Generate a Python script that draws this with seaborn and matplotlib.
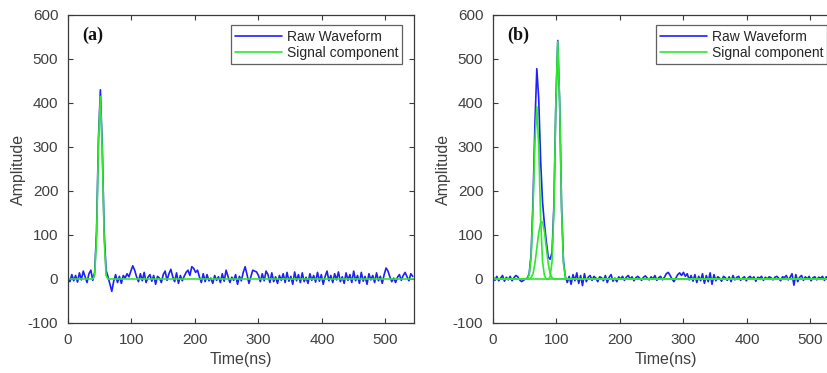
import numpy as np
import pandas as pd
import matplotlib
matplotlib.use("Agg")
import matplotlib.pyplot as plt
import seaborn as sns

# ---------------- data ----------------
TIME_STEP_NS = 3  # sampling interval of the waveforms (ns)

# Panel (a): raw waveform, sampled every 3 ns starting at t = 0
raw_a = [3, -6, 10, -4, 8, -7, 14, -2, 18, 5, -8, 12, 20, -3,
         15, 110, 320, 430, 300, 105, 20,
         5, -12, -28, -5, 10, -8, 6, -10, 8, 2, 12, 5, 18, 30, 20, 5, -6, 12, -4,
         15, -8, 4, 10, -5, 8, -12, 6, 2, -8, 10, 18, -3, 12, 22, 5, -6, 14, -10,
         8, -4, 6, 15, 20, 8, 28, 24, 15, 20, 5, -8, 12, -6, 10, -4, 2, -10, 8,
         -3, 5, -8, 12, -5, 20, 6, -8, 4, -3, 10, -12, 6, -4, 15, 28, 10, -10, 5,
         20, 18, 16, 8, -6, 12, -4, 18, 10, -8, 14, -6, 5, -10, 8, -3, 12, -8, 15,
         -5, 6, -12, 16, -4, 10, -8, 14, -6, 4, -10, 12, -3, 8, -7, 15, -5, 10, -12,
         6, 18, -4, 8, -8, 12, -2, 16, -6, 5, -10, 14, -3, 10, -8, 18, -4, 8, -10,
         15, -5, 6, -12, 12, -2, 8, -8, 14, -4, 6, -10, 10, 25, 18, 5, -6, 2, -8,
         4, 10, -3, 8, 15, 5, -4, 12, 6]

# Panel (a): fitted signal component (time in ns, amplitude)
sig_a_t = [0, 39, 42, 45, 48, 51, 54, 57, 60, 63, 545]
sig_a_v = [0, 0, 8, 95, 310, 415, 290, 90, 8, 0, 0]

# Panel (b): raw waveform, sampled every 3 ns starting at t = 0
raw_b = [5, -3, 6, -4, 2, 8, -5, 4, -2, 6, -4, 3, 8, 5, -2, -6, -3, 0,
         2, 12, 55, 175, 350, 478, 410, 270, 175, 125, 85, 50, 45, 60, 170, 400,
         542, 400, 165, 40, 5,
         -8, 6, -12, 10, -4, 14, -10, 8, -15, 12, -6, 4, 8, -3, 6, 2, -6, 5, 3,
         -4, 8, -8, 4, 10, -5, 2, -6, 5, 0, 6, -3, 4, 8, 0, 5, -4, 3, 6, 2, -3,
         4, 7, 2, -2, 5, 0, 8, -3, 3, 6, -2, 4, 12, 15, 8, 0, -6, 2, 10, 14, 8,
         15, 6, 12, -2, 8, -5, 10, -8, 6, -4, 12, -10, 8, -6, 14, -12, 10, -4, 5,
         2, -5, 6, 3, -3, 5, -6, 8, -2, 4, 6, -3, 2, 5, -4, 3, 6, 0, 5, -5, 4,
         2, 6, -3, 4, 0, 5, 3, -2, 4, 6, 2, -4, 5, 3, 8, -2, 4, 12, -14, 10, -6,
         4, 8, -3, 5, 0, 6, -4, 3, 5, -2, 4, 2, 6, -3, 5, 3, 7, 2, 5, 0, 4]

# Panel (b): three fitted signal components (time in ns, amplitude)
comp1_t = [0, 54, 57, 60, 63, 66, 69, 72, 75, 78, 81, 84, 545]
comp1_v = [0, 0, 10, 50, 160, 310, 392, 300, 140, 40, 8, 0, 0]
comp2_t = [0, 57, 60, 63, 66, 69, 72, 75, 78, 81, 84, 87, 90, 93, 96, 545]
comp2_v = [0, 0, 3, 12, 35, 70, 105, 128, 130, 108, 70, 35, 12, 3, 0, 0]
comp3_t = [0, 87, 90, 93, 96, 99, 102, 105, 108, 111, 114, 117, 545]
comp3_v = [0, 0, 5, 40, 160, 400, 540, 400, 160, 35, 4, 0, 0]

x_ticks = [0, 100, 200, 300, 400, 500]
y_ticks = [-100, 0, 100, 200, 300, 400, 500, 600]
panel_labels = ["(a)", "(b)"]
legend_labels = ["Raw Waveform", "Signal component"]
x_label = "Time(ns)"
y_label = "Amplitude"

# ---------------- styling ----------------
sns.set_theme(style="white")
plt.rcParams["font.family"] = ["Liberation Sans", "DejaVu Sans"]
plt.rcParams["axes.unicode_minus"] = False

BLUE = "#1f1fff"
GREEN = "#2ee82e"
SPINE = "#3a3a3a"
TEXT = "#404040"

fig = plt.figure(figsize=(8.27, 3.73), dpi=100)
ax_a = fig.add_axes([68 / 827, 1 - 323 / 373, 346 / 827, 308 / 373])
ax_b = fig.add_axes([493 / 827, 1 - 323 / 373, 346 / 827, 308 / 373])


def draw(ax, raw, comps, label):
    t_raw = np.arange(len(raw)) * TIME_STEP_NS
    df = pd.DataFrame({"t": t_raw, "v": raw})
    sns.lineplot(data=df, x="t", y="v", ax=ax, color=BLUE, lw=1.2,
                 estimator=None, sort=False)
    for ct, cv in comps:
        dfc = pd.DataFrame({"t": ct, "v": cv})
        sns.lineplot(data=dfc, x="t", y="v", ax=ax, color=GREEN, lw=1.2,
                     estimator=None, sort=False)
    ax.set_xlim(0, 545)
    ax.set_ylim(-100, 600)
    ax.set_xticks(x_ticks)
    ax.set_yticks(y_ticks)
    ax.set_xlabel(x_label, fontsize=11.5, color=TEXT, labelpad=4)
    ax.set_ylabel(y_label, fontsize=11.5, color=TEXT, labelpad=1)
    ax.tick_params(direction="in", length=3.5, width=0.8, colors=SPINE,
                   labelcolor=TEXT, labelsize=11, top=True, right=True,
                   bottom=True, left=True, pad=7)
    for s in ax.spines.values():
        s.set_visible(True)
        s.set_color(SPINE)
        s.set_linewidth(0.9)
    ax.text(0.04, 0.935, label, transform=ax.transAxes, ha="left", va="center",
            fontsize=13, fontweight="bold",
            family=["Liberation Serif", "DejaVu Serif"], color="#111111")
    h_raw = plt.Line2D([], [], color=BLUE, lw=1.2)
    h_sig = plt.Line2D([], [], color=GREEN, lw=1.2)
    leg = ax.legend([h_raw, h_sig], legend_labels, loc="upper right",
                    bbox_to_anchor=(0.966, 0.966), borderaxespad=0,
                    fontsize=10, frameon=True, fancybox=False,
                    handlelength=3.4, handletextpad=0.3, borderpad=0.3,
                    labelspacing=0.15, edgecolor=SPINE)
    leg.get_frame().set_linewidth(0.9)


draw(ax_a, raw_a, [(sig_a_t, sig_a_v)], panel_labels[0])
draw(ax_b, raw_b, [(comp1_t, comp1_v), (comp2_t, comp2_v), (comp3_t, comp3_v)],
     panel_labels[1])

fig.savefig("out.png", dpi=100)
